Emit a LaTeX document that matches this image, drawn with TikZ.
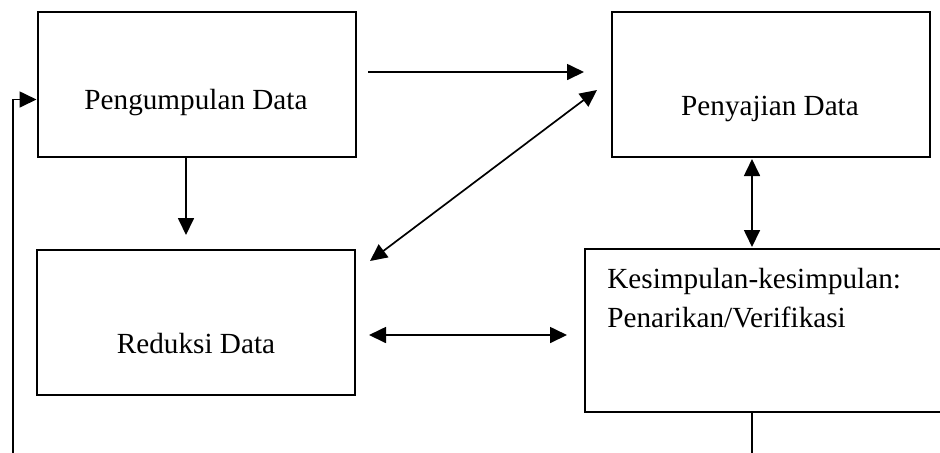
\documentclass[tikz,border=0pt]{standalone}
\usepackage{fontspec}
\setmainfont{Liberation Serif}
\usetikzlibrary{arrows.meta,calc}

\begin{document}
\begin{tikzpicture}[x=0.5pt,y=-0.5pt,line join=miter,
  kotak/.style={draw,line width=1pt,minimum width=159pt,minimum height=72.5pt,inner sep=0pt},
  teks/.style={inner sep=0pt,anchor=base,font=\fontsize{14.6}{19.5}\selectfont},
  panah/.style={line width=0.85pt,-{Triangle[length=8.5pt,width=8pt]}},
  dua/.style={line width=0.85pt,{Triangle[length=8.5pt,width=8pt]}-{Triangle[length=8.5pt,width=8pt]}}]
\useasboundingbox (0,0) rectangle (940,452);
\clip (0,0) rectangle (940,452);
% kotak-kotak
\node[kotak] (pd) at (196.5,84.5) {};
\node[kotak] (sd) at (771,84.5) {};
\node[kotak] (rd) at (196,322.5) {};
\node[kotak,minimum width=187.5pt,minimum height=81.5pt] (kv) at (772.5,330.5) {};
\node[teks] (pdt) at (196,109) {Pengumpulan Data};
\node[teks] (sdt) at (770,115) {Penyajian Data};
\node[teks] (rdt) at (196,353) {Reduksi Data};
\node[teks,anchor=base west] (kv1) at (607,288) {Kesimpulan-kesimpulan:};
\node[teks,anchor=base west] (kv2) at ($(kv1.base west)+(0,39)$) {Penarikan/Verifikasi};
\coordinate (vx) at (752,0);
\coordinate (lp) at (13,475);
% panah
\draw[panah,shorten <=5.75pt,shorten >=13.5pt] ($(pd.east)+(0,-12.5)$) -- ($(sd.west)+(0,-12.5)$);
\draw[dua] ($(sd.west)+(-14,5.5)$) -- ($(rd.north east)+(14,12)$);
\draw[dua,shorten <=0.5pt,shorten >=0.5pt] (sd.south -| vx) -- (kv.north -| vx);
\draw[panah,shorten >=7pt] ($(pd.south)+(-10.5,0)$) -- ($(rd.north)+(-10,0)$);
\draw[dua,shorten <=6.5pt,shorten >=8.5pt] ($(rd.east)+(0,12.5)$) -- ($(kv.west)+(0,4.5)$);
\draw[panah] (kv.south -| vx) |- (lp) |- ($(pd.west)+(0,15)$);
\end{tikzpicture}
\end{document}
